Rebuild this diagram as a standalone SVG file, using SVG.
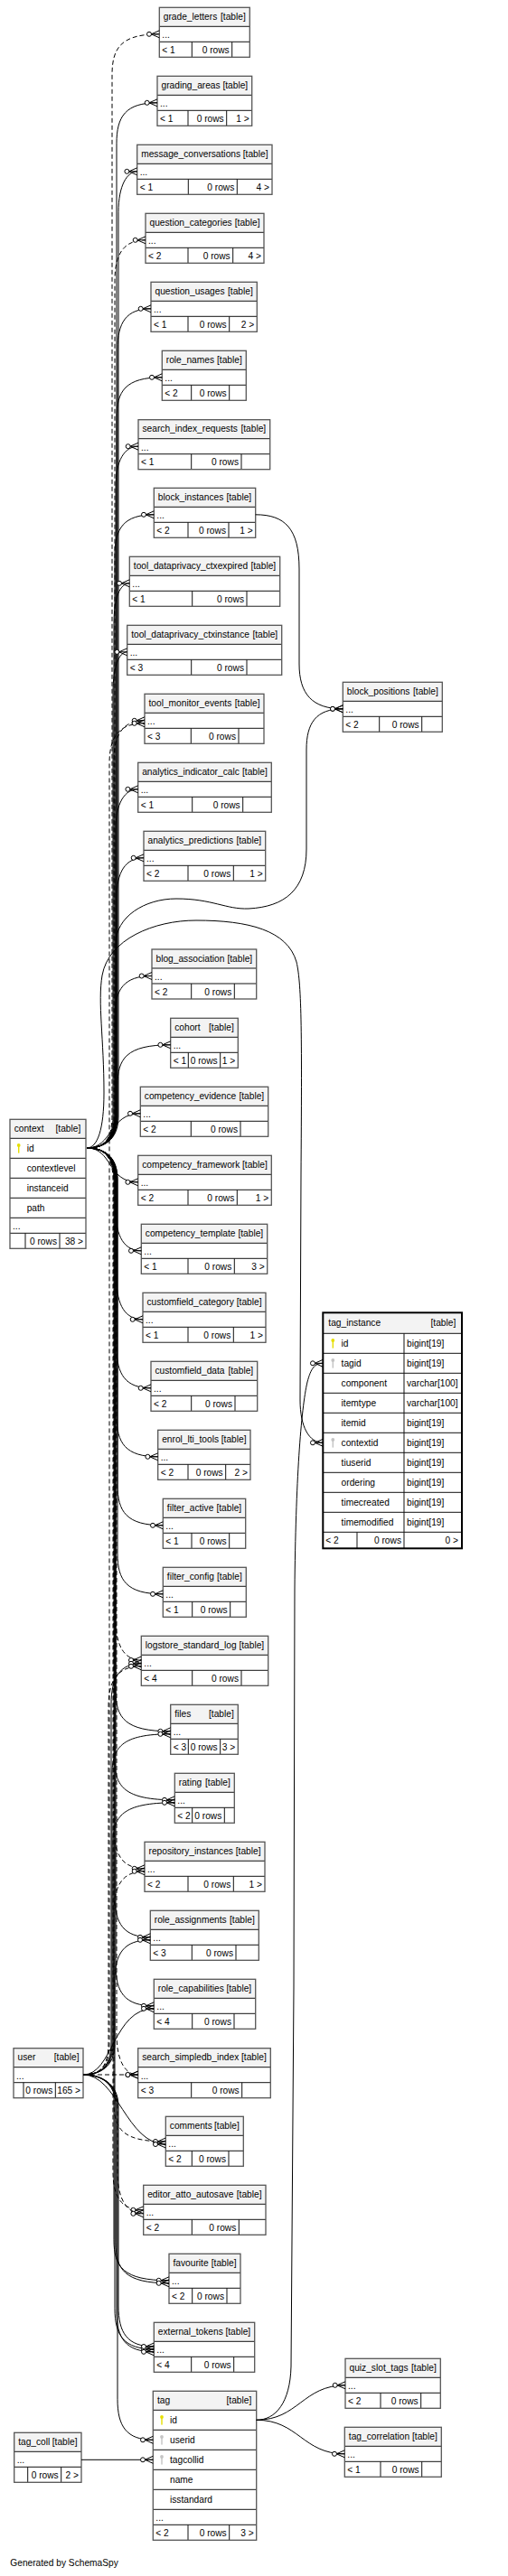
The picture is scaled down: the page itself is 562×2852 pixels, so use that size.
<svg xmlns="http://www.w3.org/2000/svg" xmlns:xlink="http://www.w3.org/1999/xlink" width="562" height="2852" viewBox="0 0 562 2852">
<style>
.t{font-family:"Liberation Sans",Arial,sans-serif;font-size:10.2px;fill:#000}
.e{text-anchor:end}
.bg{fill:#fff}
.hd{fill:#f3f3f3}
.ln{fill:none;stroke:#111;stroke-width:1}
.box{fill:none;stroke:#555;stroke-width:1.3}
.boxb{fill:none;stroke:#000;stroke-width:2}
.c{fill:none;stroke:#000;stroke-width:1;marker-end:url(#crow)}
.d{stroke-dasharray:5 3}
.pk{fill:#e6df00}
.fk{fill:#c4c4c4}
</style>
<defs>
<marker id="crow" markerUnits="userSpaceOnUse" viewBox="-15 -6 16 12" markerWidth="16" markerHeight="12" refX="0" refY="0" orient="auto">
<path d="M-9,0L0,-4M-9,0L0,0M-9,0L0,4" fill="none" stroke="#000" stroke-width="1"/>
<circle cx="-11.3" cy="0" r="2.5" fill="#fff" stroke="#000" stroke-width="1"/>
</marker>
<g id="key"><circle cx="0" cy="-3.3" r="1.9"/><rect x="-0.7" y="-3" width="1.4" height="8.3"/></g>
</defs>
<rect width="562" height="2852" fill="#fff"/>

<g id="t_grade_letters" transform="translate(176.3,8.3)"><rect class="bg" width="100" height="55"/><rect class="hd" width="100" height="21"/><path class="ln" d="M0,21H100M0,38H100M36,38V55M80.4,38V55"/><rect class="box" width="100" height="55"/><text class="t" x="4.5" y="13.8">grade_letters</text><text class="t e" x="95.5" y="13.8">[table]</text><text class="t" x="3" y="34">...</text><text class="t" x="3" y="50.5">&lt; 1</text><text class="t e" x="77.4" y="50.5">0 rows</text></g>

<g id="t_grading_areas" transform="translate(174,84.3)"><rect class="bg" width="104.7" height="55"/><rect class="hd" width="104.7" height="21"/><path class="ln" d="M0,21H104.7M0,38H104.7M34,38V55M76.7,38V55"/><rect class="box" width="104.7" height="55"/><text class="t" x="4.5" y="13.8">grading_areas</text><text class="t e" x="100.2" y="13.8">[table]</text><text class="t" x="3" y="34">...</text><text class="t" x="3" y="50.5">&lt; 1</text><text class="t e" x="73.7" y="50.5">0 rows</text><text class="t e" x="101.7" y="50.5">1 &gt;</text></g>

<g id="t_message_conversations" transform="translate(151.7,160.3)"><rect class="bg" width="149.3" height="55"/><rect class="hd" width="149.3" height="21"/><path class="ln" d="M0,21H149.3M0,38H149.3M56.6,38V55M110.6,38V55"/><rect class="box" width="149.3" height="55"/><text class="t" x="4.5" y="13.8">message_conversations</text><text class="t e" x="144.8" y="13.8">[table]</text><text class="t" x="3" y="34">...</text><text class="t" x="3" y="50.5">&lt; 1</text><text class="t e" x="107.6" y="50.5">0 rows</text><text class="t e" x="146.3" y="50.5">4 &gt;</text></g>

<g id="t_question_categories" transform="translate(161,236.3)"><rect class="bg" width="131" height="55"/><rect class="hd" width="131" height="21"/><path class="ln" d="M0,21H131M0,38H131M47,38V55M96.7,38V55"/><rect class="box" width="131" height="55"/><text class="t" x="4.5" y="13.8">question_categories</text><text class="t e" x="126.5" y="13.8">[table]</text><text class="t" x="3" y="34">...</text><text class="t" x="3" y="50.5">&lt; 2</text><text class="t e" x="93.7" y="50.5">0 rows</text><text class="t e" x="128" y="50.5">4 &gt;</text></g>

<g id="t_question_usages" transform="translate(167,312.3)"><rect class="bg" width="117.3" height="55"/><rect class="hd" width="117.3" height="21"/><path class="ln" d="M0,21H117.3M0,38H117.3M41,38V55M86.7,38V55"/><rect class="box" width="117.3" height="55"/><text class="t" x="4.5" y="13.8">question_usages</text><text class="t e" x="112.8" y="13.8">[table]</text><text class="t" x="3" y="34">...</text><text class="t" x="3" y="50.5">&lt; 1</text><text class="t e" x="83.7" y="50.5">0 rows</text><text class="t e" x="114.3" y="50.5">2 &gt;</text></g>

<g id="t_role_names" transform="translate(179.3,388.3)"><rect class="bg" width="93" height="55"/><rect class="hd" width="93" height="21"/><path class="ln" d="M0,21H93M0,38H93M32.4,38V55M74.4,38V55"/><rect class="box" width="93" height="55"/><text class="t" x="4.5" y="13.8">role_names</text><text class="t e" x="88.5" y="13.8">[table]</text><text class="t" x="3" y="34">...</text><text class="t" x="3" y="50.5">&lt; 2</text><text class="t e" x="71.4" y="50.5">0 rows</text></g>

<g id="t_search_index_requests" transform="translate(153,464.7)"><rect class="bg" width="145.7" height="55"/><rect class="hd" width="145.7" height="21"/><path class="ln" d="M0,21H145.7M0,38H145.7M58.7,38V55M114,38V55"/><rect class="box" width="145.7" height="55"/><text class="t" x="4.5" y="13.8">search_index_requests</text><text class="t e" x="141.2" y="13.8">[table]</text><text class="t" x="3" y="34">...</text><text class="t" x="3" y="50.5">&lt; 1</text><text class="t e" x="111" y="50.5">0 rows</text></g>

<g id="t_block_instances" transform="translate(170.3,540.3)"><rect class="bg" width="112.4" height="55"/><rect class="hd" width="112.4" height="21"/><path class="ln" d="M0,21H112.4M0,38H112.4M37.7,38V55M82.7,38V55"/><rect class="box" width="112.4" height="55"/><text class="t" x="4.5" y="13.8">block_instances</text><text class="t e" x="107.9" y="13.8">[table]</text><text class="t" x="3" y="34">...</text><text class="t" x="3" y="50.5">&lt; 2</text><text class="t e" x="79.7" y="50.5">0 rows</text><text class="t e" x="109.4" y="50.5">1 &gt;</text></g>

<g id="t_tool_dataprivacy_ctxexpired" transform="translate(143.3,616.3)"><rect class="bg" width="166.4" height="55"/><rect class="hd" width="166.4" height="21"/><path class="ln" d="M0,21H166.4M0,38H166.4M69.4,38V55M129.7,38V55"/><rect class="box" width="166.4" height="55"/><text class="t" x="4.5" y="13.8">tool_dataprivacy_ctxexpired</text><text class="t e" x="161.9" y="13.8">[table]</text><text class="t" x="3" y="34">...</text><text class="t" x="3" y="50.5">&lt; 1</text><text class="t e" x="126.7" y="50.5">0 rows</text></g>

<g id="t_tool_dataprivacy_ctxinstance" transform="translate(140.7,692.3)"><rect class="bg" width="171" height="55"/><rect class="hd" width="171" height="21"/><path class="ln" d="M0,21H171M0,38H171M71,38V55M132.3,38V55"/><rect class="box" width="171" height="55"/><text class="t" x="4.5" y="13.8">tool_dataprivacy_ctxinstance</text><text class="t e" x="166.5" y="13.8">[table]</text><text class="t" x="3" y="34">...</text><text class="t" x="3" y="50.5">&lt; 3</text><text class="t e" x="129.3" y="50.5">0 rows</text></g>

<g id="t_tool_monitor_events" transform="translate(160,768.3)"><rect class="bg" width="132" height="55"/><rect class="hd" width="132" height="21"/><path class="ln" d="M0,21H132M0,38H132M51.3,38V55M104,38V55"/><rect class="box" width="132" height="55"/><text class="t" x="4.5" y="13.8">tool_monitor_events</text><text class="t e" x="127.5" y="13.8">[table]</text><text class="t" x="3" y="34">...</text><text class="t" x="3" y="50.5">&lt; 3</text><text class="t e" x="101" y="50.5">0 rows</text></g>

<g id="t_analytics_indicator_calc" transform="translate(152.7,844.3)"><rect class="bg" width="147.6" height="55"/><rect class="hd" width="147.6" height="21"/><path class="ln" d="M0,21H147.6M0,38H147.6M60,38V55M116,38V55"/><rect class="box" width="147.6" height="55"/><text class="t" x="4.5" y="13.8">analytics_indicator_calc</text><text class="t e" x="143.1" y="13.8">[table]</text><text class="t" x="3" y="34">...</text><text class="t" x="3" y="50.5">&lt; 1</text><text class="t e" x="113" y="50.5">0 rows</text></g>

<g id="t_analytics_predictions" transform="translate(159,920.3)"><rect class="bg" width="134.7" height="55"/><rect class="hd" width="134.7" height="21"/><path class="ln" d="M0,21H134.7M0,38H134.7M49,38V55M99.3,38V55"/><rect class="box" width="134.7" height="55"/><text class="t" x="4.5" y="13.8">analytics_predictions</text><text class="t e" x="130.2" y="13.8">[table]</text><text class="t" x="3" y="34">...</text><text class="t" x="3" y="50.5">&lt; 2</text><text class="t e" x="96.3" y="50.5">0 rows</text><text class="t e" x="131.7" y="50.5">1 &gt;</text></g>

<g id="t_block_positions" transform="translate(379.3,755.3)"><rect class="bg" width="110" height="55"/><rect class="hd" width="110" height="21"/><path class="ln" d="M0,21H110M0,38H110M40.4,38V55M87.4,38V55"/><rect class="box" width="110" height="55"/><text class="t" x="4.5" y="13.8">block_positions</text><text class="t e" x="105.5" y="13.8">[table]</text><text class="t" x="3" y="34">...</text><text class="t" x="3" y="50.5">&lt; 2</text><text class="t e" x="84.4" y="50.5">0 rows</text></g>

<g id="t_blog_association" transform="translate(168,1051)"><rect class="bg" width="115.7" height="55"/><rect class="hd" width="115.7" height="21"/><path class="ln" d="M0,21H115.7M0,38H115.7M43.7,38V55M91.3,38V55"/><rect class="box" width="115.7" height="55"/><text class="t" x="4.5" y="13.8">blog_association</text><text class="t e" x="111.2" y="13.8">[table]</text><text class="t" x="3" y="34">...</text><text class="t" x="3" y="50.5">&lt; 2</text><text class="t e" x="88.3" y="50.5">0 rows</text></g>

<g id="t_cohort" transform="translate(188.7,1127.3)"><rect class="bg" width="74.6" height="55"/><rect class="hd" width="74.6" height="21"/><path class="ln" d="M0,21H74.6M0,38H74.6M19.6,38V55M55,38V55"/><rect class="box" width="74.6" height="55"/><text class="t" x="4.5" y="13.8">cohort</text><text class="t e" x="70.1" y="13.8">[table]</text><text class="t" x="3" y="34">...</text><text class="t" x="3" y="50.5">&lt; 1</text><text class="t e" x="52" y="50.5">0 rows</text><text class="t e" x="71.6" y="50.5">1 &gt;</text></g>

<g id="t_competency_evidence" transform="translate(155.3,1203.3)"><rect class="bg" width="141.4" height="55"/><rect class="hd" width="141.4" height="21"/><path class="ln" d="M0,21H141.4M0,38H141.4M56,38V55M110.7,38V55"/><rect class="box" width="141.4" height="55"/><text class="t" x="4.5" y="13.8">competency_evidence</text><text class="t e" x="136.9" y="13.8">[table]</text><text class="t" x="3" y="34">...</text><text class="t" x="3" y="50.5">&lt; 2</text><text class="t e" x="107.7" y="50.5">0 rows</text></g>

<g id="t_competency_framework" transform="translate(152.7,1279.3)"><rect class="bg" width="147.6" height="55"/><rect class="hd" width="147.6" height="21"/><path class="ln" d="M0,21H147.6M0,38H147.6M55.3,38V55M109.6,38V55"/><rect class="box" width="147.6" height="55"/><text class="t" x="4.5" y="13.8">competency_framework</text><text class="t e" x="143.1" y="13.8">[table]</text><text class="t" x="3" y="34">...</text><text class="t" x="3" y="50.5">&lt; 2</text><text class="t e" x="106.6" y="50.5">0 rows</text><text class="t e" x="144.6" y="50.5">1 &gt;</text></g>

<g id="t_competency_template" transform="translate(156.3,1355.3)"><rect class="bg" width="139.4" height="55"/><rect class="hd" width="139.4" height="21"/><path class="ln" d="M0,21H139.4M0,38H139.4M51.7,38V55M103,38V55"/><rect class="box" width="139.4" height="55"/><text class="t" x="4.5" y="13.8">competency_template</text><text class="t e" x="134.9" y="13.8">[table]</text><text class="t" x="3" y="34">...</text><text class="t" x="3" y="50.5">&lt; 1</text><text class="t e" x="100" y="50.5">0 rows</text><text class="t e" x="136.4" y="50.5">3 &gt;</text></g>

<g id="t_customfield_category" transform="translate(158,1431.3)"><rect class="bg" width="136" height="55"/><rect class="hd" width="136" height="21"/><path class="ln" d="M0,21H136M0,38H136M50,38V55M100.3,38V55"/><rect class="box" width="136" height="55"/><text class="t" x="4.5" y="13.8">customfield_category</text><text class="t e" x="131.5" y="13.8">[table]</text><text class="t" x="3" y="34">...</text><text class="t" x="3" y="50.5">&lt; 1</text><text class="t e" x="97.3" y="50.5">0 rows</text><text class="t e" x="133" y="50.5">1 &gt;</text></g>

<g id="t_customfield_data" transform="translate(167,1507.3)"><rect class="bg" width="117.7" height="55"/><rect class="hd" width="117.7" height="21"/><path class="ln" d="M0,21H117.7M0,38H117.7M44.7,38V55M93,38V55"/><rect class="box" width="117.7" height="55"/><text class="t" x="4.5" y="13.8">customfield_data</text><text class="t e" x="113.2" y="13.8">[table]</text><text class="t" x="3" y="34">...</text><text class="t" x="3" y="50.5">&lt; 2</text><text class="t e" x="90" y="50.5">0 rows</text></g>

<g id="t_enrol_lti_tools" transform="translate(174.7,1583.3)"><rect class="bg" width="102.3" height="55"/><rect class="hd" width="102.3" height="21"/><path class="ln" d="M0,21H102.3M0,38H102.3M33.3,38V55M75,38V55"/><rect class="box" width="102.3" height="55"/><text class="t" x="4.5" y="13.8">enrol_lti_tools</text><text class="t e" x="97.8" y="13.8">[table]</text><text class="t" x="3" y="34">...</text><text class="t" x="3" y="50.5">&lt; 2</text><text class="t e" x="72" y="50.5">0 rows</text><text class="t e" x="99.3" y="50.5">2 &gt;</text></g>

<g id="t_filter_active" transform="translate(180.3,1659.3)"><rect class="bg" width="91.4" height="55"/><rect class="hd" width="91.4" height="21"/><path class="ln" d="M0,21H91.4M0,38H91.4M31.7,38V55M73.4,38V55"/><rect class="box" width="91.4" height="55"/><text class="t" x="4.5" y="13.8">filter_active</text><text class="t e" x="86.9" y="13.8">[table]</text><text class="t" x="3" y="34">...</text><text class="t" x="3" y="50.5">&lt; 1</text><text class="t e" x="70.4" y="50.5">0 rows</text></g>

<g id="t_filter_config" transform="translate(180.3,1735.3)"><rect class="bg" width="92" height="55"/><rect class="hd" width="92" height="21"/><path class="ln" d="M0,21H92M0,38H92M32.4,38V55M74.4,38V55"/><rect class="box" width="92" height="55"/><text class="t" x="4.5" y="13.8">filter_config</text><text class="t e" x="87.5" y="13.8">[table]</text><text class="t" x="3" y="34">...</text><text class="t" x="3" y="50.5">&lt; 1</text><text class="t e" x="71.4" y="50.5">0 rows</text></g>

<g id="t_logstore_standard_log" transform="translate(156.3,1811.3)"><rect class="bg" width="140.4" height="55"/><rect class="hd" width="140.4" height="21"/><path class="ln" d="M0,21H140.4M0,38H140.4M56.4,38V55M110.7,38V55"/><rect class="box" width="140.4" height="55"/><text class="t" x="4.5" y="13.8">logstore_standard_log</text><text class="t e" x="135.9" y="13.8">[table]</text><text class="t" x="3" y="34">...</text><text class="t" x="3" y="50.5">&lt; 4</text><text class="t e" x="107.7" y="50.5">0 rows</text></g>

<g id="t_files" transform="translate(188.7,1887.3)"><rect class="bg" width="74.6" height="55"/><rect class="hd" width="74.6" height="21"/><path class="ln" d="M0,21H74.6M0,38H74.6M19.6,38V55M55,38V55"/><rect class="box" width="74.6" height="55"/><text class="t" x="4.5" y="13.8">files</text><text class="t e" x="70.1" y="13.8">[table]</text><text class="t" x="3" y="34">...</text><text class="t" x="3" y="50.5">&lt; 3</text><text class="t e" x="52" y="50.5">0 rows</text><text class="t e" x="71.6" y="50.5">3 &gt;</text></g>

<g id="t_rating" transform="translate(193.3,1963.3)"><rect class="bg" width="66" height="55"/><rect class="hd" width="66" height="21"/><path class="ln" d="M0,21H66M0,38H66M19.4,38V55M55,38V55"/><rect class="box" width="66" height="55"/><text class="t" x="4.5" y="13.8">rating</text><text class="t e" x="61.5" y="13.8">[table]</text><text class="t" x="3" y="34">...</text><text class="t" x="3" y="50.5">&lt; 2</text><text class="t e" x="52" y="50.5">0 rows</text></g>

<g id="t_repository_instances" transform="translate(160,2039.3)"><rect class="bg" width="133" height="55"/><rect class="hd" width="133" height="21"/><path class="ln" d="M0,21H133M0,38H133M48,38V55M98.3,38V55"/><rect class="box" width="133" height="55"/><text class="t" x="4.5" y="13.8">repository_instances</text><text class="t e" x="128.5" y="13.8">[table]</text><text class="t" x="3" y="34">...</text><text class="t" x="3" y="50.5">&lt; 2</text><text class="t e" x="95.3" y="50.5">0 rows</text><text class="t e" x="130" y="50.5">1 &gt;</text></g>

<g id="t_role_assignments" transform="translate(166.3,2115.3)"><rect class="bg" width="120" height="55"/><rect class="hd" width="120" height="21"/><path class="ln" d="M0,21H120M0,38H120M46,38V55M94.7,38V55"/><rect class="box" width="120" height="55"/><text class="t" x="4.5" y="13.8">role_assignments</text><text class="t e" x="115.5" y="13.8">[table]</text><text class="t" x="3" y="34">...</text><text class="t" x="3" y="50.5">&lt; 3</text><text class="t e" x="91.7" y="50.5">0 rows</text></g>

<g id="t_role_capabilities" transform="translate(170.3,2191.3)"><rect class="bg" width="112.4" height="55"/><rect class="hd" width="112.4" height="21"/><path class="ln" d="M0,21H112.4M0,38H112.4M42.4,38V55M88.7,38V55"/><rect class="box" width="112.4" height="55"/><text class="t" x="4.5" y="13.8">role_capabilities</text><text class="t e" x="107.9" y="13.8">[table]</text><text class="t" x="3" y="34">...</text><text class="t" x="3" y="50.5">&lt; 4</text><text class="t e" x="85.7" y="50.5">0 rows</text></g>

<g id="t_search_simpledb_index" transform="translate(152.7,2267.7)"><rect class="bg" width="146.6" height="55"/><rect class="hd" width="146.6" height="21"/><path class="ln" d="M0,21H146.6M0,38H146.6M59,38V55M115,38V55"/><rect class="box" width="146.6" height="55"/><text class="t" x="4.5" y="13.8">search_simpledb_index</text><text class="t e" x="142.1" y="13.8">[table]</text><text class="t" x="3" y="34">...</text><text class="t" x="3" y="50.5">&lt; 3</text><text class="t e" x="112" y="50.5">0 rows</text></g>

<g id="t_comments" transform="translate(183.3,2343.3)"><rect class="bg" width="86" height="55"/><rect class="hd" width="86" height="21"/><path class="ln" d="M0,21H86M0,38H86M29,38V55M69.7,38V55"/><rect class="box" width="86" height="55"/><text class="t" x="4.5" y="13.8">comments</text><text class="t e" x="81.5" y="13.8">[table]</text><text class="t" x="3" y="34">...</text><text class="t" x="3" y="50.5">&lt; 2</text><text class="t e" x="66.7" y="50.5">0 rows</text></g>

<g id="t_editor_atto_autosave" transform="translate(158.7,2419.3)"><rect class="bg" width="135.3" height="55"/><rect class="hd" width="135.3" height="21"/><path class="ln" d="M0,21H135.3M0,38H135.3M53.6,38V55M105.6,38V55"/><rect class="box" width="135.3" height="55"/><text class="t" x="4.5" y="13.8">editor_atto_autosave</text><text class="t e" x="130.8" y="13.8">[table]</text><text class="t" x="3" y="34">...</text><text class="t" x="3" y="50.5">&lt; 2</text><text class="t e" x="102.6" y="50.5">0 rows</text></g>

<g id="t_favourite" transform="translate(187,2495.3)"><rect class="bg" width="79" height="55"/><rect class="hd" width="79" height="21"/><path class="ln" d="M0,21H79M0,38H79M25.7,38V55M64,38V55"/><rect class="box" width="79" height="55"/><text class="t" x="4.5" y="13.8">favourite</text><text class="t e" x="74.5" y="13.8">[table]</text><text class="t" x="3" y="34">...</text><text class="t" x="3" y="50.5">&lt; 2</text><text class="t e" x="61" y="50.5">0 rows</text></g>

<g id="t_external_tokens" transform="translate(170.3,2571.3)"><rect class="bg" width="111.4" height="55"/><rect class="hd" width="111.4" height="21"/><path class="ln" d="M0,21H111.4M0,38H111.4M41.4,38V55M88.4,38V55"/><rect class="box" width="111.4" height="55"/><text class="t" x="4.5" y="13.8">external_tokens</text><text class="t e" x="106.9" y="13.8">[table]</text><text class="t" x="3" y="34">...</text><text class="t" x="3" y="50.5">&lt; 4</text><text class="t e" x="85.4" y="50.5">0 rows</text></g>

<g id="t_quiz_slot_tags" transform="translate(382,2611.3)"><rect class="bg" width="105.3" height="55"/><rect class="hd" width="105.3" height="21"/><path class="ln" d="M0,21H105.3M0,38H105.3M39,38V55M83.7,38V55"/><rect class="box" width="105.3" height="55"/><text class="t" x="4.5" y="13.8">quiz_slot_tags</text><text class="t e" x="100.8" y="13.8">[table]</text><text class="t" x="3" y="34">...</text><text class="t" x="3" y="50.5">&lt; 2</text><text class="t e" x="80.7" y="50.5">0 rows</text></g>

<g id="t_tag_correlation" transform="translate(381.3,2687.3)"><rect class="bg" width="107" height="55"/><rect class="hd" width="107" height="21"/><path class="ln" d="M0,21H107M0,38H107M39.7,38V55M85.4,38V55"/><rect class="box" width="107" height="55"/><text class="t" x="4.5" y="13.8">tag_correlation</text><text class="t e" x="102.5" y="13.8">[table]</text><text class="t" x="3" y="34">...</text><text class="t" x="3" y="50.5">&lt; 1</text><text class="t e" x="82.4" y="50.5">0 rows</text></g>

<g id="t_tag_coll" transform="translate(15.7,2693.3)"><rect class="bg" width="74.3" height="55"/><rect class="hd" width="74.3" height="21"/><path class="ln" d="M0,21H74.3M0,38H74.3M15,38V55M52,38V55"/><rect class="box" width="74.3" height="55"/><text class="t" x="4.5" y="13.8">tag_coll</text><text class="t e" x="69.8" y="13.8">[table]</text><text class="t" x="3" y="34">...</text><text class="t e" x="49" y="50.5">0 rows</text><text class="t e" x="71.3" y="50.5">2 &gt;</text></g>

<g id="t_user" transform="translate(15,2267.7)"><rect class="bg" width="77" height="55"/><rect class="hd" width="77" height="21"/><path class="ln" d="M0,21H77M0,38H77M11,38V55M46.3,38V55"/><rect class="box" width="77" height="55"/><text class="t" x="4.5" y="13.8">user</text><text class="t e" x="72.5" y="13.8">[table]</text><text class="t" x="3" y="34">...</text><text class="t e" x="43.3" y="50.5">0 rows</text><text class="t e" x="74" y="50.5">165 &gt;</text></g>

<g id="t_context" transform="translate(11,1239.3)"><rect class="bg" width="84" height="143"/><rect class="hd" width="84" height="21"/><path class="ln" d="M0,21H84M0,43H84M0,65H84M0,87H84M0,109H84M0,126H84M17,126V143M55,126V143"/><rect class="box" width="84" height="143"/><text class="t" x="4.7" y="13.8">context</text><text class="t e" x="78.3" y="13.8">[table]</text><use xlink:href="#key" class="pk" x="9.7" y="32"/><text class="t" x="18.7" y="35.6">id</text><text class="t" x="18.7" y="57.6">contextlevel</text><text class="t" x="18.7" y="79.6">instanceid</text><text class="t" x="18.7" y="101.6">path</text><text class="t" x="3" y="122">...</text><text class="t e" x="52" y="138.5">0 rows</text><text class="t e" x="81" y="138.5">38 &gt;</text></g>

<g id="t_tag_instance" transform="translate(357.3,1453.3)"><rect class="bg" width="153.7" height="261"/><rect class="hd" width="153.7" height="23"/><path class="ln" d="M0,23H153.7M0,45H153.7M0,67H153.7M0,89H153.7M0,111H153.7M0,133H153.7M0,155H153.7M0,177H153.7M0,199H153.7M0,221H153.7M0,243H153.7M89.7,23V243M37.7,243V261M89.7,243V261"/><rect class="boxb" width="153.7" height="261"/><text class="t" x="6" y="15">tag_instance</text><text class="t e" x="147" y="15">[table]</text><use xlink:href="#key" class="pk" x="11" y="34"/><use xlink:href="#key" class="fk" x="11" y="56"/><use xlink:href="#key" class="fk" x="11" y="144"/><text class="t" x="20.3" y="37.6">id</text><text class="t" x="92.7" y="37.6">bigint[19]</text><text class="t" x="20.3" y="59.6">tagid</text><text class="t" x="92.7" y="59.6">bigint[19]</text><text class="t" x="20.3" y="81.6">component</text><text class="t" x="92.7" y="81.6">varchar[100]</text><text class="t" x="20.3" y="103.6">itemtype</text><text class="t" x="92.7" y="103.6">varchar[100]</text><text class="t" x="20.3" y="125.6">itemid</text><text class="t" x="92.7" y="125.6">bigint[19]</text><text class="t" x="20.3" y="147.6">contextid</text><text class="t" x="92.7" y="147.6">bigint[19]</text><text class="t" x="20.3" y="169.6">tiuserid</text><text class="t" x="92.7" y="169.6">bigint[19]</text><text class="t" x="20.3" y="191.6">ordering</text><text class="t" x="92.7" y="191.6">bigint[19]</text><text class="t" x="20.3" y="213.6">timecreated</text><text class="t" x="92.7" y="213.6">bigint[19]</text><text class="t" x="20.3" y="235.6">timemodified</text><text class="t" x="92.7" y="235.6">bigint[19]</text><text class="t" x="3" y="256">&lt; 2</text><text class="t e" x="86.7" y="256">0 rows</text><text class="t e" x="149.7" y="256">0 &gt;</text></g>

<g id="t_tag" transform="translate(169.3,2647.3)"><rect class="bg" width="114.4" height="165"/><rect class="hd" width="114.4" height="21"/><path class="ln" d="M0,21H114.4M0,43H114.4M0,65H114.4M0,87H114.4M0,109H114.4M0,131H114.4M0,148H114.4M38.7,148V165M84.4,148V165"/><rect class="box" width="114.4" height="165"/><text class="t" x="4.7" y="13.8">tag</text><text class="t e" x="109" y="13.8">[table]</text><use xlink:href="#key" class="pk" x="9.7" y="32"/><use xlink:href="#key" class="fk" x="9.7" y="54"/><use xlink:href="#key" class="fk" x="9.7" y="76"/><text class="t" x="18.7" y="35.6">id</text><text class="t" x="18.7" y="57.6">userid</text><text class="t" x="18.7" y="79.6">tagcollid</text><text class="t" x="18.7" y="101.6">name</text><text class="t" x="18.7" y="123.6">isstandard</text><text class="t" x="3" y="144">...</text><text class="t" x="3" y="160.5">&lt; 2</text><text class="t e" x="81.4" y="160.5">0 rows</text><text class="t e" x="111.4" y="160.5">3 &gt;</text></g>

<g id="connectors">
<path class="c d" d="M96,1271C114,1271 124,1263 124,1236L124,82.8C124,52.8 134,37.8 176.3,37.8"/>
<path class="c" d="M96,1271C114,1271 129,1263 129,1236L129,158.8C129,128.8 139,113.8 174,113.8"/>
<path class="c" d="M96,1271C114,1271 131,1263 131,1236L131,234.8C131,204.8 141,189.8 151.7,189.8"/>
<path class="c d" d="M96,1271C114,1271 127,1263 127,1236L127,310.8C127,280.8 137,265.8 161,265.8"/>
<path class="c" d="M96,1271C114,1271 130,1263 130,1236L130,386.8C130,356.8 140,341.8 167,341.8"/>
<path class="c" d="M96,1271C114,1271 129,1263 129,1236L129,462.8C129,432.8 139,417.8 179.3,417.8"/>
<path class="c" d="M96,1271C114,1271 128,1263 128,1236L128,539.2C128,509.2 138,494.2 153,494.2"/>
<path class="c" d="M96,1271C114,1271 127,1263 127,1236L127,614.8C127,584.8 137,569.8 170.3,569.8"/>
<path class="c" d="M96,1271C114,1271 126,1263 126,1236L126,690.8C126,660.8 133,645.8 143.3,645.8"/>
<path class="c" d="M96,1271C114,1271 125,1263 125,1236L125,766.8C125,736.8 132,721.8 140.7,721.8"/>
<path class="c d" d="M96,1271C114,1271 126,1263 126,1236L126,842.8C126,812.8 136,797.8 160,797.8"/>
<path class="c" d="M96,1271C114,1271 128,1263 128,1236L128,918.8C128,888.8 138,873.8 152.7,873.8"/>
<path class="c" d="M96,1271C114,1271 129,1263 129,1236L129,994.8C129,964.8 139,949.8 159,949.8"/>
<path class="c" d="M96,1271C114,1271 127,1263 127,1236L127,1125.5C127,1095.5 137,1080.5 168,1080.5"/>
<path class="c" d="M96,1271C114,1271 130,1263 130,1236L130,1201.8C130,1171.8 140,1156.8 188.7,1156.8"/>
<path class="c" d="M96,1271C125,1271 120,1232.8 155.3,1232.8"/>
<path class="c" d="M96,1271C125,1271 118,1308.8 152.7,1308.8"/>
<path class="c" d="M96,1271C114,1271 128,1279 128,1306L128,1339.8C128,1369.8 138,1384.8 156.3,1384.8"/>
<path class="c" d="M96,1271C114,1271 129,1279 129,1306L129,1415.8C129,1445.8 139,1460.8 158,1460.8"/>
<path class="c" d="M96,1271C114,1271 129,1279 129,1306L129,1491.8C129,1521.8 139,1536.8 167,1536.8"/>
<path class="c" d="M96,1271C114,1271 129,1279 129,1306L129,1567.8C129,1597.8 139,1612.8 174.7,1612.8"/>
<path class="c" d="M96,1271C114,1271 130,1279 130,1306L130,1643.8C130,1673.8 140,1688.8 180.3,1688.8"/>
<path class="c" d="M96,1271C114,1271 130,1279 130,1306L130,1719.8C130,1749.8 140,1764.8 180.3,1764.8"/>
<path class="c d" d="M96,1271C114,1271 128,1279 128,1306L128,1793C128,1823 138,1838 156.3,1838"/>
<path class="c" d="M96,1271C114,1271 128,1279 128,1306L128,1871.8C128,1901.8 138,1916.8 188.7,1916.8"/>
<path class="c" d="M96,1271C114,1271 127,1279 127,1306L127,1947.8C127,1977.8 137,1992.8 193.3,1992.8"/>
<path class="c d" d="M96,1271C114,1271 126,1279 126,1306L126,2023.8C126,2053.8 136,2068.8 160,2068.8"/>
<path class="c" d="M96,1271C114,1271 127,1279 127,1306L127,2099.8C127,2129.8 137,2144.8 166.3,2144.8"/>
<path class="c" d="M96,1271C114,1271 128,1279 128,1306L128,2175.8C128,2205.8 138,2220.8 170.3,2220.8"/>
<path class="c d" d="M96,1271C114,1271 129,1279 129,1306L129,2252.2C129,2282.2 139,2297.2 152.7,2297.2"/>
<path class="c d" d="M96,1271C114,1271 126,1279 126,1306L126,2327.8C126,2357.8 136,2371 183.3,2371"/>
<path class="c d" d="M96,1271C114,1271 125,1279 125,1306L125,2403.8C125,2433.8 135,2446.8 158.7,2446.8"/>
<path class="c" d="M96,1271C114,1271 126,1279 126,1306L126,2479.8C126,2509.8 136,2524.8 187,2524.8"/>
<path class="c" d="M96,1271C114,1271 127,1279 127,1306L127,2555.8C127,2585.8 137,2600.8 170.3,2600.8"/>
<path class="c" d="M96,1271C114,1271 128,1263 128,1236L128,1045C128,1015 160,995 195,995C235,995 250,1007 275,1006C315,1004 339,985 339,940L339,830C339,800 350,784.8 379.3,784.8"/>
<path class="c" d="M96,1271C108,1271 115,1250 115,1210C115,1150 108,1110 113,1080C120,1040 170,1019 217,1019C275,1019 318,1030 328,1065C334,1090 334,1150 333,1300L332,1550C332,1580 342,1597.3 357.3,1597.3"/>
<path class="c d" d="M92,2297C110,2297 121,2289 121,2262L121,845.8C121,815.8 131,800.8 160,800.8"/>
<path class="c" d="M92,2297C110,2297 123,2289 123,2262L123,1886.8C123,1856.8 133,1841.8 156.3,1841.8"/>
<path class="c d" d="M92,2297C110,2297 120,2289 120,2262L120,1889.8C120,1859.8 130,1844.8 156.3,1844.8"/>
<path class="c" d="M92,2297C110,2297 124,2289 124,2262L124,1964.8C124,1934.8 134,1919.8 188.7,1919.8"/>
<path class="c" d="M92,2297C110,2297 125,2289 125,2262L125,2040.8C125,2010.8 135,1995.8 193.3,1995.8"/>
<path class="c d" d="M92,2297C110,2297 126,2289 126,2262L126,2116.8C126,2086.8 136,2071.8 160,2071.8"/>
<path class="c" d="M92,2297C110,2297 127,2289 127,2262L127,2192.8C127,2162.8 137,2147.8 166.3,2147.8"/>
<path class="c" d="M92,2297C125,2297 125,2223.8 170.3,2223.8"/>
<path class="c d" d="M92,2297L152.7,2297"/>
<path class="c" d="M92,2297C130,2297 140,2374 183.3,2374"/>
<path class="c d" d="M92,2297C110,2297 130,2305 130,2332L130,2404.8C130,2434.8 140,2450.8 158.7,2450.8"/>
<path class="c" d="M92,2297C110,2297 128,2305 128,2332L128,2482.8C128,2512.8 138,2527.8 187,2527.8"/>
<path class="c" d="M92,2297C110,2297 129,2305 129,2332L129,2558.8C129,2588.8 139,2603.8 170.3,2603.8"/>
<path class="c" d="M92,2297C110,2297 131,2305 131,2332L131,2553C131,2583 141,2598 170.3,2598"/>
<path class="c" d="M92,2297C110,2297 130,2305 130,2332L130,2656.3C130,2686.3 140,2701.3 169.3,2701.3"/>
<path class="c" d="M90,2723.3L169.3,2723.3"/>
<path class="c" d="M283.7,2679.3C330,2679.3 335,2640.8 382,2640.8"/>
<path class="c" d="M283.7,2679.3C330,2679.3 335,2716.8 381.3,2716.8"/>
<path class="c" d="M283.7,2679.3C305,2679.3 321,2660 322,2620L325,2200L326,1760C327,1640 333,1560 340,1530C344,1515 348,1509.3 357.3,1509.3"/>
<path class="c" d="M282.7,569.8C315,569.8 331,585 331,630L331,735C331,768 345,784.8 379.3,784.8"/>
</g>

<text class="t" x="11.3" y="2841">Generated by SchemaSpy</text>
</svg>
